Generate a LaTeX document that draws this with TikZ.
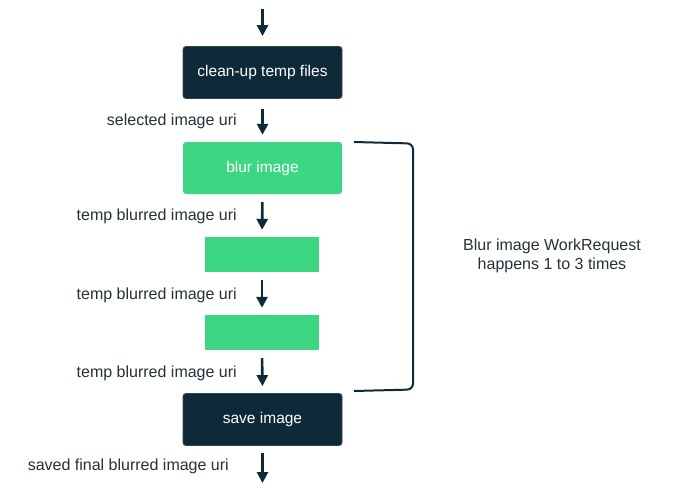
\documentclass[tikz,border=0pt]{standalone}
\usepackage{fontspec}
\setmainfont{Liberation Sans}
\usetikzlibrary{arrows.meta}
\definecolor{dark}{HTML}{0E2A38}
\definecolor{gr}{HTML}{3DD682}
\definecolor{txt}{HTML}{263238}
\begin{document}
\begin{tikzpicture}[x=1pt,y=-1pt,
  darkbox/.style={fill=dark,draw=dark!70!gray,line width=0.8pt,rounded corners=3pt,minimum width=159pt,minimum height=52pt,text=white,font=\fontsize{15.5}{17}\selectfont,inner sep=0pt},
  greenbox/.style={fill=gr,rounded corners=3pt,minimum width=159pt,minimum height=52pt,text=white,font=\fontsize{15.5}{17}\selectfont,inner sep=0pt},
  smallbox/.style={fill=gr,minimum width=114pt,minimum height=35pt,inner sep=0pt},
  flow/.style={draw=dark,line width=2.6pt,-{Triangle[width=11pt,length=11pt]}},
  lbl/.style={text=txt,font=\fontsize{16}{18}\selectfont,anchor=east,inner sep=0pt}]
\useasboundingbox (0,0) rectangle (685,493);
\fill[white] (0,0) rectangle (685,493);
\coordinate (top) at (262.5,9);
\coordinate (bot) at (262.5,483);
\node[darkbox] (clean) at (262.5,72.5) {clean-up temp files};
\node[greenbox] (blur) at (262.5,168) {blur image};
\node[smallbox] (g1) at (262,254.5) {};
\node[smallbox] (g2) at (262,332.5) {};
\node[darkbox] (save) at (262.5,419.5) {save image};
\draw[flow,shorten >=10pt] (top) -- (clean.north);
\draw[flow,shorten <=10pt,shorten >=7pt] (clean.south) -- (blur.north);
\draw[flow,shorten <=8pt,shorten >=7pt] (blur.south) -- (g1.north);
\draw[flow,shorten <=8pt,shorten >=7pt] (g1.south) -- (g2.north);
\draw[flow,shorten <=8pt,shorten >=7pt] (g2.south) -- (save.north);
\draw[flow,shorten <=7pt] (save.south) -- (bot);
\node[lbl] (l1) at (237,121) {selected image uri};
\node[lbl] (l2) at (237,216) {temp blurred image uri};
\node[lbl] (l3) at (237,295) {temp blurred image uri};
\node[lbl] (l4) at (237,373) {temp blurred image uri};
\node[lbl] (l5) at (229,466) {saved final blurred image uri};
\coordinate (b1) at (354,142);
\coordinate (b2) at (354,391);
\draw[dark,line width=2pt,rounded corners=6pt] (b1) -- (413,143.5) -- (413,389.5) -- (b2);
\node[text=txt,font=\fontsize{16}{19}\selectfont,align=center] (note) at (552,256) {Blur image WorkRequest\\happens 1 to 3 times};
\end{tikzpicture}
\end{document}
